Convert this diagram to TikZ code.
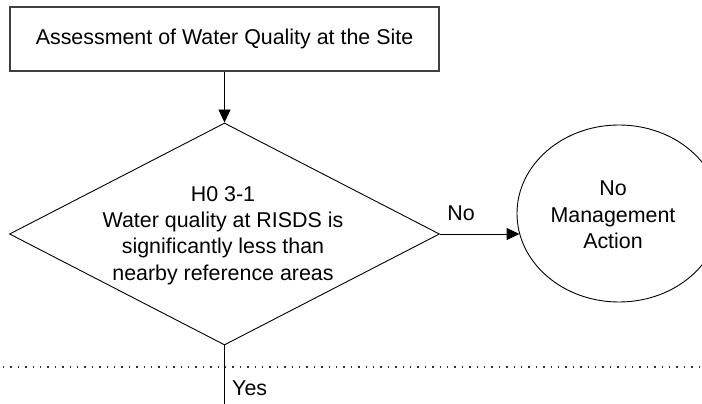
\documentclass[tikz,border=0pt]{standalone}
\usepackage{fontspec}
\setmainfont{Liberation Sans}
\usetikzlibrary{shapes.geometric,arrows.meta,calc}
\begin{document}
\begin{tikzpicture}[x=1pt,y=-1pt,
  every node/.style={font=\fontsize{21.4}{26.4}\selectfont},
  procbox/.style={draw=black!75,line width=1.3pt,rectangle,minimum width=429pt,minimum height=64pt,inner sep=0pt},
  decision/.style={draw,line width=0.9pt,diamond,minimum width=430pt,minimum height=222pt,inner sep=0pt},
  terminal/.style={draw,line width=0.9pt,ellipse,minimum width=204pt,minimum height=177pt,inner sep=0pt},
  flow/.style={line width=0.9pt,-{Triangle[length=13pt,width=12pt]}},
  plain/.style={line width=0.9pt},
  divider/.style={line width=1.3pt,dash pattern=on 1.3pt off 6.1pt,black!80}
]
\useasboundingbox (0,0) rectangle (702,404);

\node[procbox] (assess) at (224.5,39) {Assessment of Water Quality at the Site};

\node[decision] (hyp) at (224.5,234) {};
\node[align=center,inner sep=0pt] (hyptext) at (223,235.5)
  {H0 3-1\\Water quality at RISDS is\\significantly less than\\nearby reference areas};

\node[terminal] (noact) at (619,213.5) {};
\node[align=center,inner sep=0pt] (noacttext) at (613,215) {No\\Management\\Action};

\coordinate (lineL) at (3,367);
\coordinate (lineR) at (702,367);
\coordinate (yesend) at (224.5,404);

\draw[flow] (assess.south) -- (hyp.north);
\draw[flow] (hyp.east) -- ($(hyp.east -| noact.west)+(3,0)$);
\node[anchor=south,inner sep=0pt] (nolabel) at (461,221) {No};

\draw[divider] (lineL) -- (lineR);
\draw[plain] (hyp.south) -- (yesend);
\node[anchor=west,inner sep=0pt] (yeslabel) at (232,388) {Yes};
\end{tikzpicture}
\end{document}
